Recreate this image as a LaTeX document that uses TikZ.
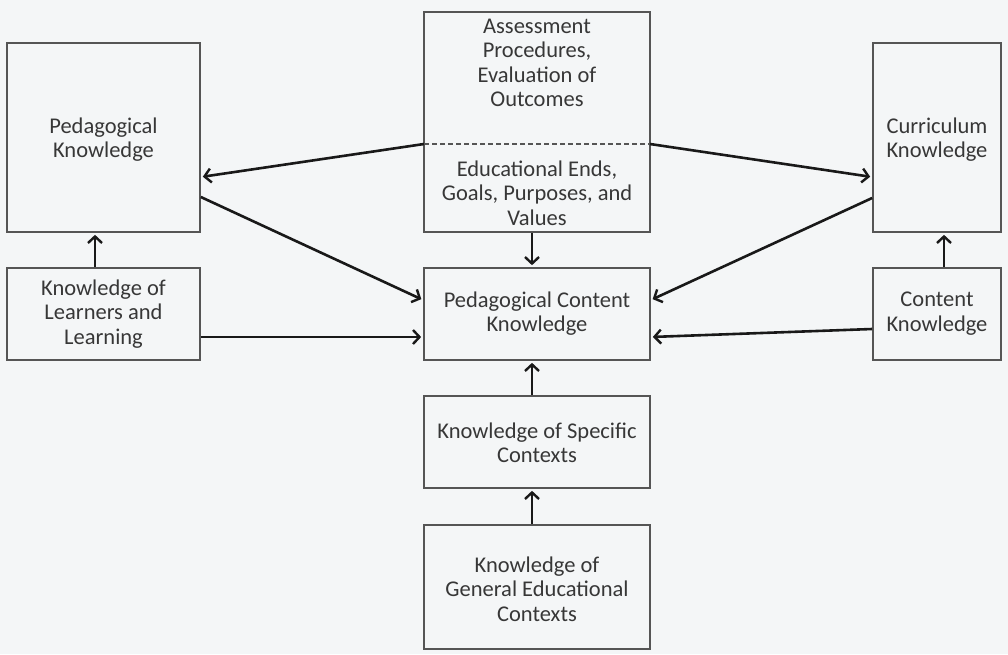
\documentclass[tikz,border=0pt]{standalone}
\usepackage{fontspec}
\setmainfont{Carlito}
\usetikzlibrary{arrows.meta}
\definecolor{bg}{RGB}{244,246,247}
\definecolor{boxline}{RGB}{85,85,85}
\definecolor{txt}{RGB}{55,55,55}
\begin{document}
\begin{tikzpicture}[x=1pt,y=-1pt,
  box/.style={draw=boxline,line width=1.7pt,fill=bg,inner sep=0pt},
  lbl/.style={text=txt,align=center,font=\fontsize{22.5}{24.5}\selectfont,inner sep=0pt},
  arr/.style={draw=black!90,line width=2.6pt,-{Straight Barb[length=6.5pt,width=14pt,line width=2.4pt]},shorten >=2pt}]
  % canvas
  \fill[bg] (0,0) rectangle (1008,654);
  \useasboundingbox (0,0) rectangle (1008,654);

  % boxes
  \node[box,minimum width=193pt,minimum height=189pt] (pk) at (103.5,137.5) {};
  \node[box,minimum width=226pt,minimum height=220pt] (top) at (537,122) {};
  \node[box,minimum width=128pt,minimum height=189pt] (ck) at (937,137.5) {};
  \node[box,minimum width=193pt,minimum height=92pt] (kll) at (103.5,314) {};
  \node[box,minimum width=226pt,minimum height=92pt] (pck) at (537,314) {};
  \node[box,minimum width=128pt,minimum height=92pt] (con) at (937,314) {};
  \node[box,minimum width=226pt,minimum height=92pt] (ksc) at (537,442) {};
  \node[box,minimum width=226pt,minimum height=124pt] (kgec) at (537,587) {};

  % dashed divider inside the top box
  \coordinate (dl) at (424,144);
  \coordinate (dr) at (650,144);
  \draw[boxline,line width=1.4pt,dash pattern=on 5pt off 3pt] (dl) -- (dr);

  % labels
  \node[lbl] (pkt) at (103.5,139.5) {Pedagogical\\Knowledge};
  \node[lbl] (ckt) at (937,139.5) {Curriculum\\Knowledge};
  \node[lbl] (asst) at (537,63) {Assessment\\Procedures,\\Evaluation of\\Outcomes};
  \node[lbl] (endt) at (537,193) {Educational Ends,\\Goals, Purposes, and\\Values};
  \node[lbl] (kllt) at (103.5,314) {Knowledge of\\Learners and\\Learning};
  \node[lbl] (pckt) at (537,313.5) {Pedagogical Content\\Knowledge};
  \node[lbl] (cont) at (937,313.5) {Content\\Knowledge};
  \node[lbl] (ksct) at (537,443) {Knowledge of Specific\\Contexts};
  \node[lbl] (kgect) at (537,589) {Knowledge of\\General Educational\\Contexts};

  % connectors
  \draw[arr] (dl) -- ([yshift=-39.5pt]pk.east);
  \draw[arr] (dr) -- ([yshift=-39.5pt]ck.west);
  \draw[arr] ([yshift=-59.5pt]pk.east) -- ([yshift=14pt]pck.west);
  \draw[arr] ([yshift=-60.5pt]ck.west) -- ([yshift=14pt]pck.east);
  \draw[arr] ([yshift=-23pt]kll.east) -- ([yshift=-23pt]pck.west);
  \draw[arr] ([yshift=-15pt]con.west) -- ([yshift=-23pt]pck.east);
  \draw[arr] ([xshift=-8.5pt]kll.north) -- ([xshift=-8.5pt]pk.south);
  \draw[arr] ([xshift=7pt]con.north) -- ([xshift=7pt]ck.south);
  \draw[arr] ([xshift=-5pt]top.south) -- ([xshift=-5pt]pck.north);
  \draw[arr] ([xshift=-5pt]ksc.north) -- ([xshift=-5pt]pck.south);
  \draw[arr] ([xshift=-5pt]kgec.north) -- ([xshift=-5pt]ksc.south);
\end{tikzpicture}
\end{document}
